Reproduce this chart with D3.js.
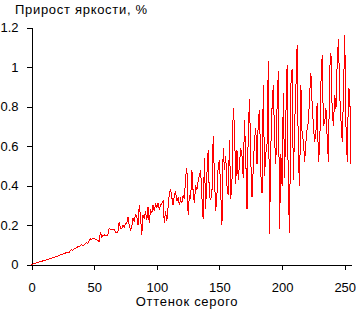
<!DOCTYPE html>
<html lang="ru">
<head>
<meta charset="UTF-8">
<script src="https://d3js.org/d3.v7.min.js"></script>
<style>
  body { margin: 0; background: #fff; }
  text { font-family: "Liberation Sans", Arial, sans-serif; font-size: 13px; fill: #000; }
  .title { letter-spacing: 0.7px; }
</style>
</head>
<body>
<script>
// Brightness increment (%) for each gray level 0..255
const grayLevels = d3.range(0, 256);
const increment = [
  0, 0.002, 0.004, 0.006, 0.008, 0.01, 0.012, 0.014, 0.016, 0.018,
  0.02, 0.022, 0.024, 0.026, 0.028, 0.03, 0.032, 0.034, 0.036, 0.038,
  0.04, 0.043, 0.045, 0.048, 0.05, 0.053, 0.055, 0.058, 0.06, 0.062,
  0.06, 0.07, 0.075, 0.072, 0.078, 0.08, 0.085, 0.09, 0.088, 0.095,
  0.1, 0.095, 0.1, 0.105, 0.11, 0.108, 0.12, 0.13, 0.125, 0.135,
  0.13, 0.128, 0.125, 0.12, 0.118, 0.165, 0.14, 0.148, 0.15, 0.145,
  0.148, 0.15, 0.185, 0.178, 0.175, 0.18, 0.176, 0.165, 0.16, 0.165,
  0.215, 0.185, 0.18, 0.2, 0.19, 0.205, 0.21, 0.24, 0.2, 0.175,
  0.19, 0.235, 0.22, 0.25, 0.245, 0.2, 0.3, 0.24, 0.15, 0.25,
  0.23, 0.27, 0.225, 0.29, 0.21, 0.28, 0.26, 0.3, 0.27, 0.31,
  0.29, 0.31, 0.28, 0.3, 0.31, 0.32, 0.21, 0.27, 0.22, 0.29,
  0.36, 0.38, 0.34, 0.3, 0.35, 0.37, 0.32, 0.34, 0.3, 0.33,
  0.31, 0.35, 0.33, 0.44, 0.49, 0.25, 0.35, 0.33, 0.48, 0.37,
  0.31, 0.4, 0.38, 0.42, 0.45, 0.48, 0.34, 0.23, 0.54, 0.28,
  0.46, 0.58, 0.34, 0.33, 0.36, 0.65, 0.45, 0.27, 0.35, 0.5,
  0.53, 0.37, 0.2, 0.59, 0.48, 0.55, 0.4, 0.35, 0.63, 0.33,
  0.42, 0.79, 0.7, 0.41, 0.58, 0.43, 0.51, 0.59, 0.55, 0.44,
  0.73, 0.54, 0.28, 0.67, 0.84, 0.53, 0.34, 0.49, 0.63, 0.69,
  0.51, 0.73, 0.78, 0.46, 0.36, 0.91, 0.45, 0.56, 0.61, 1.03,
  0.155, 0.59, 0.8, 0.91, 0.63, 0.51, 0.8, 0.98, 0.18, 0.56,
  0.4, 0.87, 0.44, 0.75, 1.01, 0.35, 0.16, 0.91, 0.99, 0.43,
  0.7, 0.89, 1.11, 0.53, 0.4, 0.91, 0.65, 0.63, 0.52, 0.62,
  0.69, 0.72, 0.86, 0.97, 0.81, 0.7, 0.62, 0.67, 0.82, 0.52,
  0.59, 0.92, 1.06, 0.7, 0.72, 0.79, 0.64, 0.52, 0.99, 1.07,
  0.77, 0.7, 0.86, 0.79, 1.03, 1.14, 0.86, 0.73, 0.62, 0.86,
  1.16, 0.7, 0.52, 0.89, 0.88, 0.51
];
const xTicks = [0, 50, 100, 150, 200, 250];
const yTicks = [0, 0.2, 0.4, 0.6, 0.8, 1, 1.2];

const width = 356, height = 311;

const svg = d3.select("body").append("svg")
    .attr("width", width)
    .attr("height", height);

const x = d3.scaleLinear().domain([0, 255]).range([31.5, 351]);
const y = d3.scaleLinear().domain([0, 1.2]).range([264.5, 27.5]);

// axes
svg.append("g")
    .attr("transform", "translate(0,264.5)")
    .call(d3.axisBottom(x).tickValues(xTicks).tickSize(5).tickSizeOuter(0).tickPadding(13));

svg.append("g")
    .attr("transform", "translate(31.5,0)")
    .call(d3.axisLeft(y).tickValues(yTicks).tickSize(5).tickSizeOuter(0).tickPadding(8)
        .tickFormat(d => String(+d.toFixed(1))));

svg.selectAll(".domain, .tick line")
    .attr("stroke", "#000")
    .attr("shape-rendering", "crispEdges");
svg.selectAll(".tick text")
    .attr("font-family", null)
    .attr("font-size", null);

// data line
const line = d3.line()
    .x((d, i) => x(grayLevels[i]))
    .y(d => y(d));

svg.append("path")
    .datum(increment)
    .attr("fill", "none")
    .attr("stroke", "#ff0000")
    .attr("stroke-width", 1)
    .attr("shape-rendering", "crispEdges")
    .attr("d", line);

// titles
svg.append("text")
    .attr("class", "title")
    .attr("x", 15)
    .attr("y", 14)
    .text("Прирост яркости, %");

svg.append("text")
    .attr("class", "title")
    .attr("x", 187)
    .attr("y", 306)
    .attr("text-anchor", "middle")
    .text("Оттенок серого");
</script>
</body>
</html>
